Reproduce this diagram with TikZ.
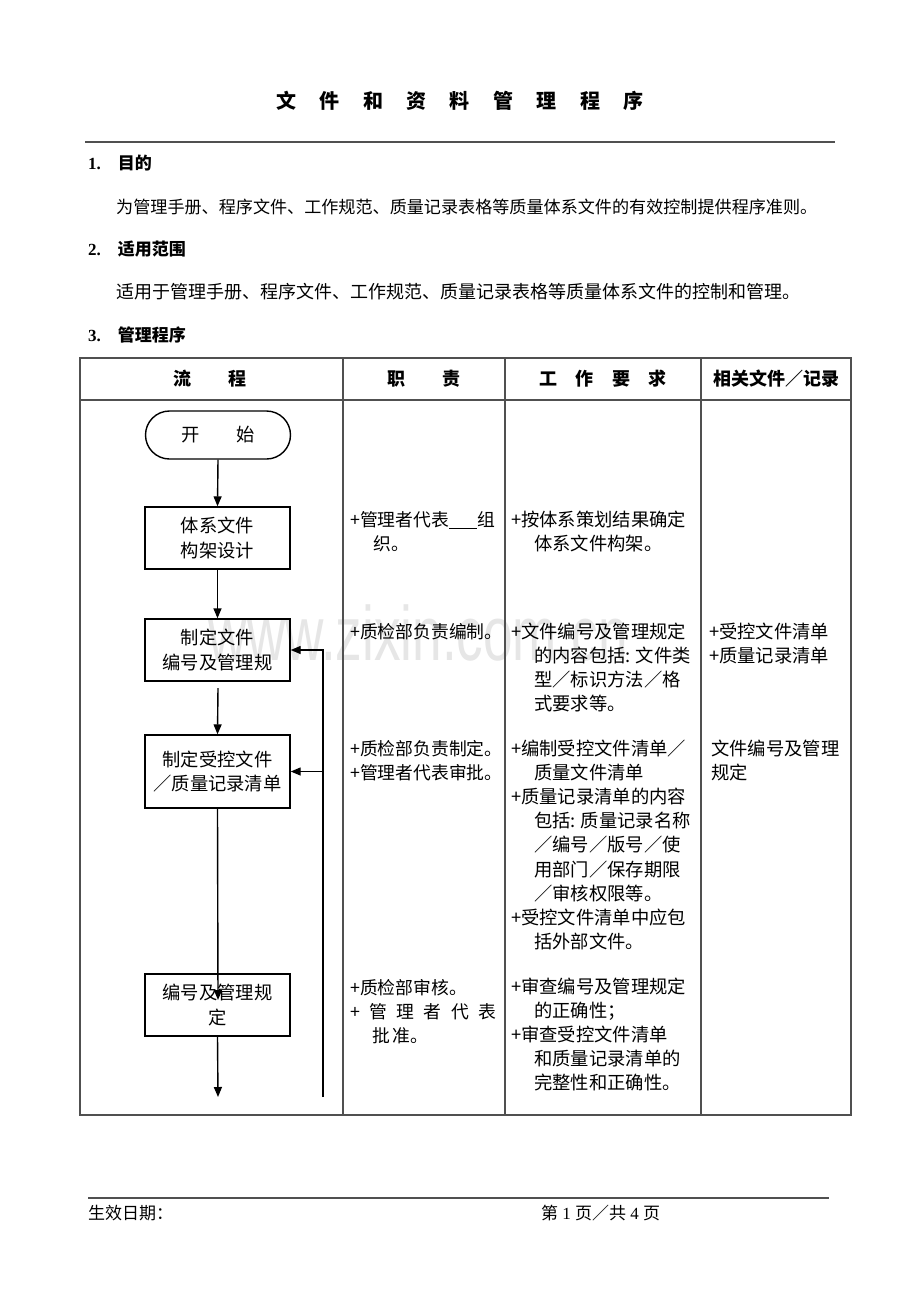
\documentclass[tikz,border=0pt]{standalone}
\usepackage{fontspec}
\setmainfont{Noto Sans CJK SC}
\newfontfamily\lat{Liberation Serif}
\newfontfamily\wmfont{Liberation Sans}[FakeStretch=0.69]
\usetikzlibrary{arrows.meta}
\definecolor{tline}{RGB}{80,80,80}
\definecolor{wmgray}{RGB}{230,230,230}
\newcommand{\tb}{\fontsize{18.3}{24.2}\selectfont}
\newcommand{\ind}{\hspace*{23pt}}
\newcommand{\tg}{\hspace{23.4pt}}
\newcommand{\mycolon}{:\hspace{5pt}}
\begin{document}
\begin{tikzpicture}[x=1pt,y=-1pt,
  flowbox/.style={draw=black, line width=1.4pt, minimum width=145pt, inner sep=0pt, align=center, font=\tb},
  conn/.style={line width=1.4pt, -{Triangle[length=10pt,width=8pt]}},
  txt/.style={anchor=base west, inner sep=0pt, font=\tb},
  oneline/.style={anchor=west, inner sep=0pt},
  hdr/.style={inner sep=0pt, font=\fontsize{18}{18}\selectfont\bfseries},
  grid/.style={draw=tline, line width=1.2pt}]
\useasboundingbox (0,0) rectangle (920,1302);
\fill[white] (0,0) rectangle (920,1302);

% watermark
\node[anchor=base, inner sep=0pt, text=wmgray, font=\wmfont\fontsize{77}{77}\selectfont] (wm) at (418.5,660) {www.zixin.com.cn};

% title and top rule
\node[inner sep=0pt, font=\fontsize{20}{20}\selectfont\bfseries] (title) at (460,101) {文\tg 件\tg 和\tg 资\tg 料\tg 管\tg 理\tg 程\tg 序};
\coordinate (r1a) at (85,142);
\coordinate (r1b) at (835,142);
\draw[tline, line width=1.6pt] (r1a) -- (r1b);

% sections
\node[oneline, font=\fontsize{17}{17}\selectfont\bfseries] (h1) at (88,163) {{\lat\bfseries 1.}\hspace{17pt}目的};
\node[oneline, font=\fontsize{17.1}{17}\selectfont] (p1) at (116,207) {为管理手册、程序文件、工作规范、质量记录表格等质量体系文件的有效控制提供程序准则。};
\node[oneline, font=\fontsize{17}{17}\selectfont\bfseries] (h2) at (88,249) {{\lat\bfseries 2.}\hspace{17pt}适用范围};
\node[oneline, font=\fontsize{18}{18}\selectfont] (p2) at (116,292) {适用于管理手册、程序文件、工作规范、质量记录表格等质量体系文件的控制和管理。};
\node[oneline, font=\fontsize{17}{17}\selectfont\bfseries] (h3) at (88,335) {{\lat\bfseries 3.}\hspace{17pt}管理程序};

% table
\coordinate (tA) at (80,358);
\coordinate (tB) at (851,1115);
\draw[grid] (tA) rectangle (tB);
\draw[grid] (80,400) -- (851,400);
\draw[grid] (343,358) -- (343,1115);
\draw[grid] (505,358) -- (505,1115);
\draw[grid] (701,358) -- (701,1115);

\node[hdr] (hd1) at (210,379) {流\hspace{37pt}程};
\node[hdr] (hd2) at (424,379) {职\hspace{37pt}责};
\node[hdr] (hd3) at (603,379) {工\hspace{18.5pt}作\hspace{18.5pt}要\hspace{18.5pt}求};
\node[hdr] (hd4) at (776,379) {相关文件／记录};

% flow chart
\node[flowbox, minimum height=48pt, rounded corners=24pt] (start) at (218,435) {开\hspace{37pt}始};
\node[flowbox, minimum height=62pt] (b1) at (217.5,538) {体系文件\\构架设计};
\node[flowbox, minimum height=62pt] (b2) at (217.5,650) {制定文件\\编号及管理规};
\node[flowbox, minimum height=73pt] (b3) at (217.5,771.5) {制定受控文件\\／质量记录清单};
\node[flowbox, minimum height=62pt] (b4) at (217.5,1005) {编号及管理规\\定};
\coordinate (b2low) at (218,688);
\coordinate (b4in) at (218,1000);
\coordinate (endp) at (218,1097);
\coordinate (fb) at (323,1097);

\draw[conn] (start.south) -- (b1.north);
\draw[conn] (b1.south) -- (b2.north);
\draw[conn] (b2low) -- (b3.north);
\draw[conn] (b3.south) -- (b4in);
\draw[conn] (b4.south) -- (endp);
\draw[conn] (fb) |- (b2.east);
\draw[conn] (fb |- b3.east) -- (b3.east);

% column 2
\node[txt, font=\fontsize{17.8}{24.2}\selectfont] (c2a) at (350,526) {\parbox[t]{160pt}{+管理者代表\rule[-3pt]{28pt}{0.9pt}组\\\ind 织。}};
\node[txt, font=\fontsize{17.8}{24.2}\selectfont] (c2b) at (350,638) {+质检部负责编制。};
\node[txt, font=\fontsize{17.8}{24.2}\selectfont] (c2c) at (350,755) {\parbox[t]{160pt}{+质检部负责制定。\\+管理者代表审批。}};
\node[txt, font=\fontsize{17.8}{24.2}\selectfont] (c2d) at (350,994) {\parbox[t]{160pt}{+质检部审核。\\\makebox[146pt][s]{+ 管 理 者 代 表}\\\hspace*{22pt}批\hspace{3pt}准。}};

% column 3
\node[txt] (c3a) at (511,526) {\parbox[t]{190pt}{+按体系策划结果确定\\\ind 体系文件构架。}};
\node[txt] (c3b) at (511,638) {\parbox[t]{190pt}{+文件编号及管理规定\\\ind 的内容包括\mycolon 文件类\\\ind 型／标识方法／格\\\ind 式要求等。}};
\node[txt] (c3c) at (511,755) {\parbox[t]{190pt}{+编制受控文件清单／\\\ind 质量文件清单\\+质量记录清单的内容\\\ind 包括\mycolon 质量记录名称\\\ind ／编号／版号／使\\\ind 用部门／保存期限\\\ind ／审核权限等。\\+受控文件清单中应包\\\ind 括外部文件。}};
\node[txt] (c3d) at (511,993) {\parbox[t]{190pt}{+审查编号及管理规定\\\ind 的正确性；\\+审查受控文件清单\\\ind 和质量记录清单的\\\ind 完整性和正确性。}};

% column 4
\node[txt] (c4a) at (709,638) {\parbox[t]{140pt}{+受控文件清单\\+质量记录清单}};
\node[txt] (c4b) at (711,755) {\parbox[t]{140pt}{文件编号及管理\\规定}};

% footer
\coordinate (f1a) at (88,1198);
\coordinate (f1b) at (829,1198);
\draw[tline, line width=1.4pt] (f1a) -- (f1b);
\node[oneline, font=\fontsize{17}{17}\selectfont] (fd) at (88,1213) {生效日期：};
\node[oneline, font=\fontsize{17}{17}\selectfont] (fp) at (541,1213) {第{\lat\ 1\ }页／共{\lat\ 4\ }页};
\end{tikzpicture}
\end{document}
